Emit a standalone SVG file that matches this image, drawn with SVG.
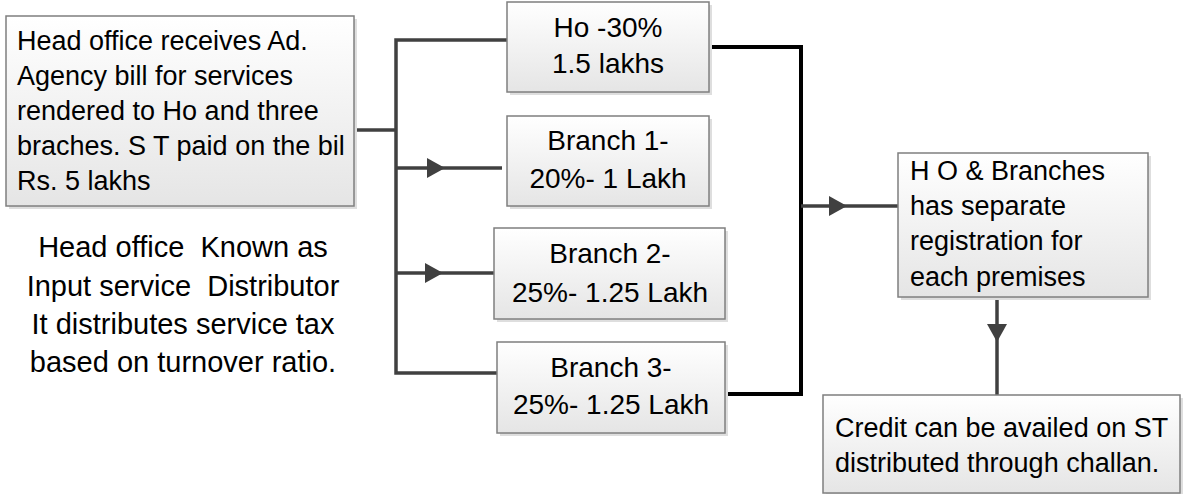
<svg xmlns="http://www.w3.org/2000/svg" width="1189" height="494" viewBox="0 0 1189 494">
<style>
text{font-family:"Liberation Sans",Arial,sans-serif;fill:#000;}
.t27{font-size:27px;}
.t28{font-size:28px;}
.t29{font-size:29px;white-space:pre;}
.mid{text-anchor:middle;}
.box{fill:url(#g);stroke:#7f7f7f;stroke-width:1.5;}
.sh{fill:#dedede;}
.c{fill:none;stroke:#404040;stroke-width:3.5;}
.k{fill:none;stroke:#000;stroke-width:4;}
</style>
<defs>
<linearGradient id="g" x1="0" y1="0" x2="0" y2="1">
<stop offset="0" stop-color="#ffffff"/>
<stop offset="1" stop-color="#e5e5e5"/>
</linearGradient>
<marker id="a" markerUnits="userSpaceOnUse" markerWidth="20" markerHeight="22" refX="18" refY="10" orient="auto">
<path d="M0,0 L18,10 L0,20 z" fill="#404040"/>
</marker>
</defs>
<g id="connectors">
<polyline class="c" points="354,130 396,130"/>
<polyline class="c" points="507,40 396,40 396,373 497,373"/>
<polyline class="c" points="396,168 445,168 502,168" marker-mid="url(#a)"/>
<polyline class="c" points="396,273 443,273 494,273" marker-mid="url(#a)"/>
<polyline class="k" points="709,47 801,47 801,394 725,394"/>
<polyline class="c" points="801,206 847,206 898,206" marker-mid="url(#a)"/>
<polyline class="c" points="997,297 997,342 997,395" marker-mid="url(#a)"/>
</g>
<g id="head-office">
<rect class="sh" x="9" y="19" width="348" height="190"/>
<rect class="box" x="6" y="16" width="348" height="190"/>
<text class="t27" x="17" y="50">Head office receives Ad.</text>
<text class="t27" x="17" y="85">Agency bill for services</text>
<text class="t27" x="17" y="120">rendered to Ho and three</text>
<text class="t27" x="17" y="155">braches. S T paid on the bil</text>
<text class="t27" x="17" y="190">Rs. 5 lakhs</text>
</g>
<g id="isd-note">
<text class="t29 mid" x="183" y="257" xml:space="preserve">Head office  Known as</text>
<text class="t29 mid" x="183" y="296" xml:space="preserve">Input service  Distributor</text>
<text class="t29 mid" x="183" y="334">It distributes service tax</text>
<text class="t29 mid" x="183" y="372">based on turnover ratio.</text>
</g>
<g id="ho">
<rect class="sh" x="510" y="5" width="202" height="90"/>
<rect class="box" x="507" y="2" width="202" height="90"/>
<text class="t28 mid" x="608" y="37">Ho -30%</text>
<text class="t28 mid" x="608" y="73">1.5 lakhs</text>
</g>
<g id="branch1">
<rect class="sh" x="510" y="119" width="202" height="90"/>
<rect class="box" x="507" y="116" width="202" height="90"/>
<text class="t28 mid" x="608" y="150">Branch 1-</text>
<text class="t28 mid" x="608" y="188">20%- 1 Lakh</text>
</g>
<g id="branch2">
<rect class="sh" x="497" y="231" width="231" height="91"/>
<rect class="box" x="494" y="228" width="231" height="91"/>
<text class="t28 mid" x="610" y="263">Branch 2-</text>
<text class="t28 mid" x="610" y="302">25%- 1.25 Lakh</text>
</g>
<g id="branch3">
<rect class="sh" x="500" y="345" width="228" height="91"/>
<rect class="box" x="497" y="342" width="228" height="91"/>
<text class="t28 mid" x="611" y="377">Branch 3-</text>
<text class="t28 mid" x="611" y="414">25%- 1.25 Lakh</text>
</g>
<g id="registration">
<rect class="sh" x="901" y="156" width="250" height="144"/>
<rect class="box" x="898" y="153" width="250" height="144"/>
<text class="t27" x="910" y="180">H O &amp; Branches</text>
<text class="t27" x="910" y="215">has separate</text>
<text class="t27" x="910" y="250">registration for</text>
<text class="t27" x="910" y="286">each premises</text>
</g>
<g id="credit">
<rect class="sh" x="826" y="398" width="357" height="98"/>
<rect class="box" x="823" y="395" width="357" height="98"/>
<text class="t27" x="835" y="437">Credit can be availed on ST</text>
<text class="t27" x="835" y="472">distributed through challan.</text>
</g>
</svg>
